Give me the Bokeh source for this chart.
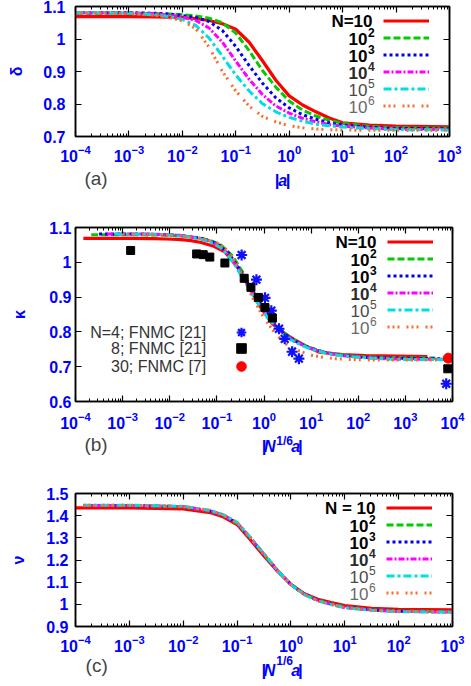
import math
from bokeh.plotting import figure
from bokeh.layouts import column
from bokeh.models import (Range1d, FixedTicker, LogAxis, LinearAxis, CustomJSTickFormatter,
                          Legend, LegendItem, Label, LogTickFormatter)
from bokeh.embed import file_html
from bokeh.resources import INLINE

# ---------------- data ----------------
N_VALUES = [10, 100, 1000, 10000, 100000, 1000000]
CURVE_LABELS_SUP = ["", "2", "3", "4", "5", "6"]

# panel (a): delta vs |a|  (same curves in panel (b) vs N^(1/6)|a|)
A_GRID = [1e-4, 1e-3, 3.16e-3, 5.62e-3, 1e-2, 1.78e-2, 3.16e-2, 5.62e-2, 0.1, 0.178,
          0.316, 0.562, 1.0, 1.78, 3.16, 5.62, 10.0, 31.6, 100.0, 2000.0]
DELTA_N1E1 = [1.069, 1.069, 1.068, 1.067, 1.066, 1.063, 1.057, 1.047, 1.030, 0.990,
              0.933, 0.873, 0.825, 0.797, 0.776, 0.757, 0.742, 0.735, 0.732, 0.729]
DELTA_N1E2 = [1.079, 1.079, 1.078, 1.077, 1.075, 1.071, 1.064, 1.050, 1.018, 0.964,
              0.903, 0.852, 0.809, 0.781, 0.763, 0.750, 0.740, 0.731, 0.727, 0.725]
DELTA_N1E3 = [1.081, 1.081, 1.079, 1.077, 1.072, 1.066, 1.054, 1.026, 0.977, 0.918,
              0.864, 0.819, 0.788, 0.767, 0.753, 0.742, 0.735, 0.728, 0.725, 0.723]
DELTA_N1E4 = [1.081, 1.081, 1.078, 1.073, 1.068, 1.057, 1.034, 0.990, 0.932, 0.876,
              0.829, 0.794, 0.772, 0.756, 0.745, 0.737, 0.732, 0.726, 0.722, 0.721]
DELTA_N1E5 = [1.081, 1.080, 1.074, 1.069, 1.060, 1.042, 1.003, 0.947, 0.889, 0.840,
              0.801, 0.776, 0.759, 0.747, 0.738, 0.733, 0.729, 0.724, 0.721, 0.720]
DELTA_N1E6 = [1.081, 1.078, 1.073, 1.066, 1.056, 1.032, 0.975, 0.900, 0.840, 0.793,
              0.762, 0.745, 0.733, 0.727, 0.723, 0.721, 0.720, 0.719, 0.719, 0.719]
DELTA = [DELTA_N1E1, DELTA_N1E2, DELTA_N1E3, DELTA_N1E4, DELTA_N1E5, DELTA_N1E6]

# panel (b): FNMC points
FNMC_N4_X = [0.335, 0.69, 1.05, 1.43, 2.08, 2.75, 3.94, 5.5, 7350.0]
FNMC_N4_Y = [1.021, 0.950, 0.898, 0.861, 0.809, 0.780, 0.743, 0.723, 0.651]
FNMC_N8_X = [1.48e-3, 0.0372, 0.0513, 0.0708, 0.148, 0.380, 0.528, 0.757, 1.05, 1.51, 7940.0]
FNMC_N8_Y = [1.034, 1.024, 1.022, 1.015, 0.998, 0.954, 0.928, 0.899, 0.870, 0.840, 0.694]
FNMC_N30_X = [8130.0]
FNMC_N30_Y = [0.7245]

# panel (c): nu vs N^(1/6)|a|
C_GRID_N10 = [1e-4, 1e-3, 1e-2, 3.16e-2, 5.62e-2, 0.1, 0.178, 0.316, 0.562, 1.0,
              1.78, 3.16, 5.62, 10.0, 31.6, 100.0, 1000.0]
C_GRID = [1.4e-4, 1e-3, 1e-2, 3.16e-2, 5.62e-2, 0.1, 0.178, 0.316, 0.562, 1.0,
          1.78, 3.16, 5.62, 10.0, 31.6, 100.0, 1000.0]
NU_N1E1 = [1.435, 1.435, 1.431, 1.414, 1.394, 1.360, 1.290, 1.218, 1.150, 1.090,
           1.048, 1.023, 1.008, 0.994, 0.982, 0.977, 0.975]
NU_N1E2 = [1.446, 1.446, 1.440, 1.420, 1.400, 1.365, 1.297, 1.224, 1.152, 1.089,
           1.046, 1.019, 1.002, 0.988, 0.976, 0.970, 0.967]
NU_N1E3 = [1.446, 1.446, 1.441, 1.421, 1.401, 1.366, 1.298, 1.225, 1.153, 1.089,
           1.045, 1.018, 1.001, 0.987, 0.975, 0.969, 0.966]
NU_N1E4 = [1.446, 1.446, 1.441, 1.422, 1.402, 1.367, 1.299, 1.226, 1.153, 1.089,
           1.045, 1.017, 1.000, 0.986, 0.974, 0.968, 0.965]
NU_N1E5 = [1.447, 1.447, 1.442, 1.424, 1.404, 1.370, 1.302, 1.228, 1.154, 1.088,
           1.043, 1.015, 0.999, 0.985, 0.973, 0.967, 0.965]
NU_N1E6 = [1.447, 1.447, 1.441, 1.423, 1.403, 1.368, 1.300, 1.227, 1.153, 1.088,
           1.044, 1.016, 0.999, 0.985, 0.974, 0.968, 0.965]
NU = [NU_N1E1, NU_N1E2, NU_N1E3, NU_N1E4, NU_N1E5, NU_N1E6]

Y_TICKS_A = [0.7, 0.8, 0.9, 1.0, 1.1]
Y_TICKS_B = [0.6, 0.7, 0.8, 0.9, 1.0, 1.1]
Y_TICKS_C = [0.9, 1.0, 1.1, 1.2, 1.3, 1.4, 1.5]

# ---------------- styles ----------------
FONT = "Liberation Sans"
BLUE = "#0000ff"
COLORS = ["#ff0000", "#00cc00", "#0000ee", "#ff00ff", "#00dede", "#ff6a2a"]
DASHES = ["solid", "7 3", "3 3", "6 2 2 2", "8 3 3 3", "2 3 2 3 2 7"]
WIDTHS = [3.2, 3, 3, 3, 3, 3]
TXT_COLORS = ["#000000", "#000000", "#000000", "#2a2a2a", "#4a4a4a", "#6a6a6a"]
TXT_STYLES = ["bold", "bold", "bold", "bold", "normal", "normal"]
W = 471


def empty_fmt():
    return CustomJSTickFormatter(code="return ''")


def make_panel(x_end_exp, y_lo, y_hi, y_ticks, fw, fh, mbl, mbt, mbb, xstand, ystand,
               ylabel, ylabel_stand):
    p = figure(x_axis_type="log", x_range=Range1d(1e-4, 10.0 ** x_end_exp),
               y_range=Range1d(y_lo, y_hi), frame_width=fw, frame_height=fh,
               min_border_left=mbl, min_border_top=mbt, min_border_bottom=mbb,
               min_border_right=W - mbl - fw, output_backend="svg", toolbar_location=None)
    p.xgrid.visible = False
    p.ygrid.visible = False
    p.outline_line_color = "black"
    p.outline_line_width = 1.5
    p.background_fill_color = "white"
    p.border_fill_color = "white"
    majors = [10.0 ** e for e in range(-4, x_end_exp + 1)]
    minors = [m * 10.0 ** e for e in range(-4, x_end_exp) for m in range(2, 10)]

    def xt():
        return FixedTicker(ticks=majors, minor_ticks=minors)

    def yt():
        return FixedTicker(ticks=y_ticks)

    xa = p.xaxis[0]
    xa.ticker = xt()
    xa.formatter = LogTickFormatter()
    ya = p.yaxis[0]
    ya.ticker = yt()
    ya.formatter = CustomJSTickFormatter(code="return String(tick)")
    for ax, stand in ((xa, xstand), (ya, ystand)):
        ax.major_label_text_font = FONT
        ax.major_label_text_font_style = "bold"
        ax.major_label_text_font_size = "16px"
        ax.major_label_text_color = BLUE
        ax.major_label_standoff = stand
        ax.major_tick_in = 6
        ax.major_tick_out = 0
        ax.minor_tick_in = 3
        ax.minor_tick_out = 0
        ax.axis_line_width = 1.5
        ax.major_tick_line_width = 1.2
        ax.minor_tick_line_width = 1.0
    ya.minor_tick_in = 0
    ya.axis_label = ylabel
    ya.axis_label_text_font = FONT
    ya.axis_label_text_font_style = "bold"
    ya.axis_label_text_font_size = "16px"
    ya.axis_label_text_color = BLUE
    ya.axis_label_standoff = ylabel_stand

    top = LogAxis(ticker=xt(), formatter=empty_fmt(), major_label_text_font_size="0px",
                  major_label_standoff=0, major_tick_in=6, major_tick_out=0,
                  minor_tick_in=3, minor_tick_out=0, axis_line_width=1.5,
                  major_tick_line_width=1.2)
    p.add_layout(top, "above")
    right = LinearAxis(ticker=yt(), formatter=empty_fmt(), major_label_text_font_size="0px",
                       major_label_standoff=0, major_tick_in=6, major_tick_out=0,
                       minor_tick_in=0, minor_tick_out=0, axis_line_width=1.5,
                       major_tick_line_width=1.2)
    p.add_layout(right, "right")
    return p


def make_strip(h):
    s = figure(width=W, height=h, x_range=Range1d(0, W), y_range=Range1d(0, h),
               x_axis_location=None, y_axis_location=None, min_border=0,
               output_backend="svg", toolbar_location=None)
    s.grid.visible = False
    s.outline_line_color = None
    s.background_fill_color = "white"
    s.border_fill_color = "white"
    return s


def txt(p, x, y, text, dx=0.0, dy=0.0, size="17px", style="bold", color="black",
        align="center", baseline="middle", angle=0.0):
    p.add_layout(Label(x=x, y=y, x_offset=dx, y_offset=dy, text=text, text_font=FONT,
                       text_font_size=size, text_font_style=style, text_color=color,
                       text_align=align, text_baseline=baseline, angle=angle))


def curves(p, xs_list, ys_list, loc, first_label, xr, ytop, off_main, off_base):
    rs = []
    for i in range(6):
        r = p.line(xs_list[i], ys_list[i], line_color=COLORS[i], line_width=WIDTHS[i],
                   line_dash=DASHES[i])
        rs.append(r)
    leg = Legend(items=[LegendItem(label=" ", renderers=[r]) for r in rs],
                 location=loc, margin=0, padding=0, spacing=0,
                 glyph_width=46, glyph_height=17, label_height=17,
                 label_width=0, label_standoff=0,
                 label_text_font_size="1px", border_line_color=None,
                 background_fill_alpha=0)
    p.add_layout(leg)
    for k in range(6):
        dy = -(15.0 + 17.0 * k)
        if k == 0:
            txt(p, xr, ytop, first_label, off_main, dy, align="right",
                color=TXT_COLORS[0], style=TXT_STYLES[0])
        else:
            txt(p, xr, ytop, "10", off_base, dy, align="right",
                color=TXT_COLORS[k], style=TXT_STYLES[k])
            txt(p, xr, ytop, CURVE_LABELS_SUP[k], off_base + 0.5, dy + 6.5, size="12px",
                align="left", color=TXT_COLORS[k], style=TXT_STYLES[k])
    return rs


def n_sixth_label(s, y_main, y_sup, xs):
    txt(s, xs[0], y_main, "|", size="17px", color=BLUE)
    txt(s, xs[1], y_main, "N", size="16px", style="bold italic", color=BLUE)
    txt(s, xs[2], y_sup, "1/6", size="12px", color=BLUE)
    txt(s, xs[3], y_main, "a", size="16px", style="bold italic", color=BLUE)
    txt(s, xs[4], y_main, "|", size="17px", color=BLUE)


# ---------------- panel (a) ----------------
pa = make_panel(3, 0.7, 1.1, Y_TICKS_A, 374, 130, 75, 6, 31, 8, 10, "δ", 15)
curves(pa, [A_GRID] * 6, DELTA, (308, 22), "N=10", 1e3, 1.1, -77, -82)
sa = make_strip(28)
txt(sa, 26, 17, "(a)", size="19px", style="normal", color="#444444")
txt(sa, 254.7, 15, "|", size="17px", color=BLUE)
txt(sa, 261.7, 15, "a", size="16px", style="bold italic", color=BLUE)
txt(sa, 268.5, 15, "|", size="17px", color=BLUE)

# ---------------- panel (b) ----------------
pb = make_panel(4, 0.6, 1.1, Y_TICKS_B, 377, 174, 71, 32, 30, 10, 4, "κ", 18)
xs_b = [[a * n ** (1.0 / 6.0) for a in A_GRID] for n in N_VALUES]
curves(pb, xs_b, DELTA, (312, 66), "N=10", 1e4, 1.1, -76, -83)
r4 = pb.scatter(FNMC_N4_X, FNMC_N4_Y, marker="asterisk", size=11, line_color="#1010ff",
                line_width=2.2)
r8 = pb.scatter(FNMC_N8_X, FNMC_N8_Y, marker="square", size=8, fill_color="black",
                line_color="black")
r30 = pb.scatter(FNMC_N30_X, FNMC_N30_Y, marker="circle", size=10, fill_color="#ff0000",
                 line_color="#ff0000")
for r, vy in ((r4, 57.5), (r8, 41.0), (r30, 23.5)):
    lg = Legend(items=[LegendItem(label=" ", renderers=[r])], location=(153.7, vy),
                margin=0, padding=0, spacing=0, glyph_width=24, glyph_height=24,
                label_height=24, label_width=0, label_standoff=0,
                label_text_font_size="1px", border_line_color=None,
                background_fill_alpha=0)
    pb.add_layout(lg)
for text, dy in (("N=4; FNMC [21]", 69.5), ("8; FNMC [21]", 53.3), ("30; FNMC [7]", 35.5)):
    txt(pb, 1e-4, 0.6, text, 130.7, dy, size="16px", style="normal", color="#333333",
        align="right")
sb = make_strip(29)
txt(sb, 26, 16.5, "(b)", size="19px", style="normal", color="#444444")
n_sixth_label(sb, 14, 20, [238.2, 245.2, 264.0, 278.0, 284.0])

# ---------------- panel (c) ----------------
pc = make_panel(3, 0.9, 1.5, Y_TICKS_C, 377, 133, 72, 33, 29, 8, 7, "ν", 16)
curves(pc, [C_GRID_N10] + [C_GRID] * 5, NU, (311, 25), "N = 10", 1e3, 1.5, -77, -84)
sc = make_strip(26)
txt(sc, 26.7, 16, "(c)", size="19px", style="normal", color="#444444")
n_sixth_label(sc, 11, 20.5, [238.0, 245.0, 264.0, 278.0, 284.0])

layout = column(pa, sa, pb, sb, pc, sc, spacing=0)

open("out.html", "w").write(file_html(layout, INLINE))
